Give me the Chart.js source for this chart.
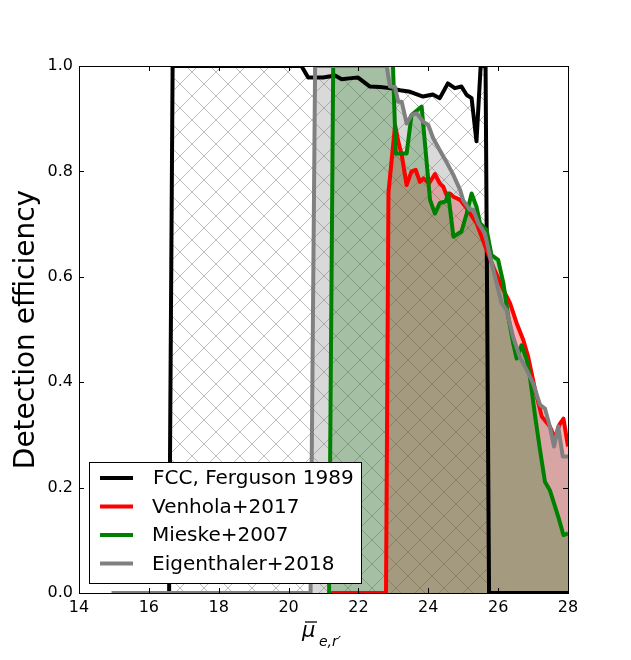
<!DOCTYPE html>
<html>
<head>
<meta charset="utf-8">
<script src="https://cdn.jsdelivr.net/npm/chart.js@4.4.1/dist/chart.umd.min.js"></script>
<style>
html,body{margin:0;padding:0;background:#fff;}
canvas{display:block;}
</style>
</head>
<body>
<canvas id="c" width="631" height="660"></canvas>
<script>
// ---- data ----
const seriesLabels = ['FCC, Ferguson 1989', 'Venhola+2017', 'Mieske+2007', 'Eigenthaler+2018'];
const xTicks = [14, 16, 18, 20, 22, 24, 26, 28];
const yTicks = [0.0, 0.2, 0.4, 0.6, 0.8, 1.0];

const fccX = [16.5, 16.58, 16.68, 20.37, 20.56, 20.99, 21.33, 21.52, 21.8, 21.99, 22.33, 22.62, 22.9, 23.19, 23.48, 23.85, 24.13, 24.33, 24.56, 24.76, 24.95, 25.1, 25.24, 25.38, 25.5, 25.64, 25.74, 28.0];
const fccY = [0, 0, 1.0, 1.0, 0.978, 0.978, 0.982, 0.975, 0.977, 0.978, 0.961, 0.96, 0.958, 0.954, 0.951, 0.942, 0.946, 0.939, 0.967, 0.958, 0.961, 0.945, 0.939, 0.857, 1.0, 1.0, 0, 0];

const venX = [21.22, 22.79, 22.86, 23.05, 23.14, 23.24, 23.38, 23.52, 23.64, 23.76, 23.86, 24.02, 24.19, 24.33, 24.43, 24.52, 24.62, 24.72, 24.91, 25.1, 25.38, 25.67, 25.86, 26.15, 26.34, 26.53, 26.72, 26.86, 27.06, 27.25, 27.48, 27.63, 27.75, 27.87, 28.0];
const venY = [0, 0, 0.76, 0.888, 0.857, 0.831, 0.774, 0.8, 0.803, 0.78, 0.787, 0.777, 0.795, 0.777, 0.771, 0.755, 0.758, 0.752, 0.746, 0.73, 0.702, 0.651, 0.619, 0.575, 0.55, 0.512, 0.48, 0.448, 0.385, 0.335, 0.316, 0.294, 0.319, 0.331, 0.278];

const mieX = [21.16, 21.28, 22.98, 23.07, 23.38, 23.52, 23.81, 24.05, 24.19, 24.33, 24.5, 24.57, 24.72, 24.95, 25.1, 25.24, 25.38, 25.48, 25.67, 25.81, 26.0, 26.15, 26.29, 26.43, 26.53, 26.67, 26.82, 26.91, 27.06, 27.2, 27.34, 27.48, 27.63, 27.72, 27.87, 28.0];
const mieY = [0, 1.02, 1.02, 0.834, 0.834, 0.907, 0.923, 0.746, 0.72, 0.74, 0.743, 0.758, 0.676, 0.686, 0.72, 0.758, 0.733, 0.702, 0.689, 0.641, 0.632, 0.588, 0.524, 0.474, 0.445, 0.47, 0.442, 0.41, 0.335, 0.271, 0.211, 0.195, 0.164, 0.145, 0.11, 0.113];

const eigX = [14.93, 20.63, 20.76, 22.81, 22.9, 23.05, 23.14, 23.24, 23.38, 23.52, 23.67, 23.86, 24.0, 24.14, 24.33, 24.52, 24.72, 24.91, 25.0, 25.19, 25.29, 25.43, 25.62, 25.77, 25.91, 26.1, 26.24, 26.43, 26.62, 26.82, 27.0, 27.2, 27.34, 27.48, 27.6, 27.72, 27.85, 28.0];
const eigY = [0, 0, 1.0, 1.0, 0.961, 0.96, 0.932, 0.932, 0.891, 0.907, 0.91, 0.894, 0.888, 0.863, 0.84, 0.818, 0.793, 0.765, 0.745, 0.727, 0.727, 0.702, 0.683, 0.638, 0.6, 0.55, 0.537, 0.486, 0.448, 0.423, 0.398, 0.357, 0.35, 0.316, 0.278, 0.316, 0.259, 0.259];

const lineColors = ['#000000', '#ff0000', '#008000', '#808080'];

function pts(xs, ys) { return xs.map((x, i) => ({x: x, y: ys[i]})); }

// hatch pattern ('x'), drawn pixel by pixel for crisp 1px diagonals
function makeHatch() {
  const s = 24;
  const c = document.createElement('canvas');
  c.width = s; c.height = s;
  const g = c.getContext('2d');
  g.fillStyle = '#bcbcbc';
  for (let i = 0; i < s; i++) {
    g.fillRect(i, i, 1, 1);
    g.fillRect(s - 1 - i, i, 1, 1);
  }
  const ctx = document.getElementById('c').getContext('2d');
  return ctx.createPattern(c, 'repeat');
}
const hatch = makeHatch();

const FONT = "'DejaVu Sans', sans-serif";

const framePlugin = {
  id: 'frame',
  afterDraw(chart) {
    const ctx = chart.ctx;
    const a = chart.chartArea;
    const xs = chart.scales.x, ys = chart.scales.y;
    ctx.save();
    ctx.strokeStyle = '#000';
    ctx.lineWidth = 1;
    // ticks inside on all sides
    ctx.beginPath();
    xTicks.forEach(v => {
      const px = Math.round(xs.getPixelForValue(v)) + 0.5;
      ctx.moveTo(px, a.bottom); ctx.lineTo(px, a.bottom - 5);
      ctx.moveTo(px, a.top); ctx.lineTo(px, a.top + 5);
    });
    yTicks.forEach(v => {
      const py = Math.round(ys.getPixelForValue(v)) + 0.5;
      ctx.moveTo(a.left, py); ctx.lineTo(a.left + 5, py);
      ctx.moveTo(a.right, py); ctx.lineTo(a.right - 5, py);
    });
    ctx.stroke();
    ctx.strokeRect(Math.round(a.left) + 0.5, Math.round(a.top) + 0.5, Math.round(a.right - a.left), Math.round(a.bottom - a.top));

    // x axis title  mu-bar_{e,r'}
    ctx.fillStyle = '#000';
    ctx.textBaseline = 'alphabetic';
    ctx.textAlign = 'left';
    ctx.font = 'italic 21px ' + FONT;
    ctx.fillText('\u03bc', 302, 637);
    ctx.beginPath();
    ctx.lineWidth = 1.3;
    ctx.moveTo(305, 622); ctx.lineTo(317, 622);
    ctx.stroke();
    ctx.font = 'italic 14px ' + FONT;
    ctx.fillText('e,r\u2032', 319, 646);

    // legend
    const lx = 89, ly = 462, lw = 272, lh = 121;
    ctx.fillStyle = '#fff';
    ctx.fillRect(lx, ly, lw, lh);
    ctx.lineWidth = 1;
    ctx.strokeStyle = '#000';
    ctx.strokeRect(lx + 0.5, ly + 0.5, lw, lh);
    const rows = [478, 506.5, 535, 563.5];
    ctx.font = '20px ' + FONT;
    ctx.textBaseline = 'middle';
    seriesLabels.forEach((t, i) => {
      ctx.strokeStyle = lineColors[i];
      ctx.lineWidth = 4;
      ctx.beginPath();
      ctx.moveTo(100, rows[i]); ctx.lineTo(133, rows[i]);
      ctx.stroke();
      ctx.fillStyle = '#000';
      ctx.fillText(t, i === 0 ? 153 : 152, rows[i] + 1);
    });
    ctx.restore();
  }
};

const common = {
  tension: 0, pointRadius: 0, borderWidth: 4, borderJoinStyle: 'round',
  fill: 'origin', clip: 0
};

new Chart(document.getElementById('c'), {
  type: 'line',
  data: {
    datasets: [
      Object.assign({}, common, {label: seriesLabels[0], data: pts(fccX, fccY), borderColor: lineColors[0], backgroundColor: hatch, order: 3}),
      Object.assign({}, common, {label: seriesLabels[1], data: pts(venX, venY), borderColor: lineColors[1], backgroundColor: 'rgba(255,0,0,0.3)', order: 2}),
      Object.assign({}, common, {label: seriesLabels[2], data: pts(mieX, mieY), borderColor: lineColors[2], backgroundColor: 'rgba(0,128,0,0.3)', order: 1}),
      Object.assign({}, common, {label: seriesLabels[3], data: pts(eigX, eigY), borderColor: lineColors[3], backgroundColor: 'rgba(128,128,128,0.3)', order: 0})
    ]
  },
  options: {
    responsive: false,
    animation: false,
    devicePixelRatio: 1,
    layout: {padding: {left: 0, right: 63, top: 66, bottom: 0}},
    plugins: {
      legend: {display: false},
      tooltip: {enabled: false},
      filler: {drawTime: 'beforeDatasetsDraw'}
    },
    scales: {
      x: {
        type: 'linear', min: 14, max: 28,
        afterFit: s => { s.height = 67; },
        afterBuildTicks: s => { s.ticks = xTicks.map(v => ({value: v})); },
        grid: {display: false, drawTicks: false},
        border: {display: false},
        ticks: {color: '#000', font: {family: FONT, size: 16}, padding: 5, maxRotation: 0,
                callback: v => String(v)}
      },
      y: {
        type: 'linear', min: 0, max: 1,
        afterFit: s => { s.width = 79; },
        afterBuildTicks: s => { s.ticks = yTicks.map(v => ({value: v})); },
        grid: {display: false, drawTicks: false},
        border: {display: false},
        ticks: {color: '#000', font: {family: FONT, size: 16}, padding: 6,
                callback: v => Number(v).toFixed(1)},
        title: {display: true, text: 'Detection efficiency', color: '#000',
                font: {family: FONT, size: 28}, padding: {top: 10, bottom: 0}}
      }
    }
  },
  plugins: [framePlugin]
});
</script>
</body>
</html>
